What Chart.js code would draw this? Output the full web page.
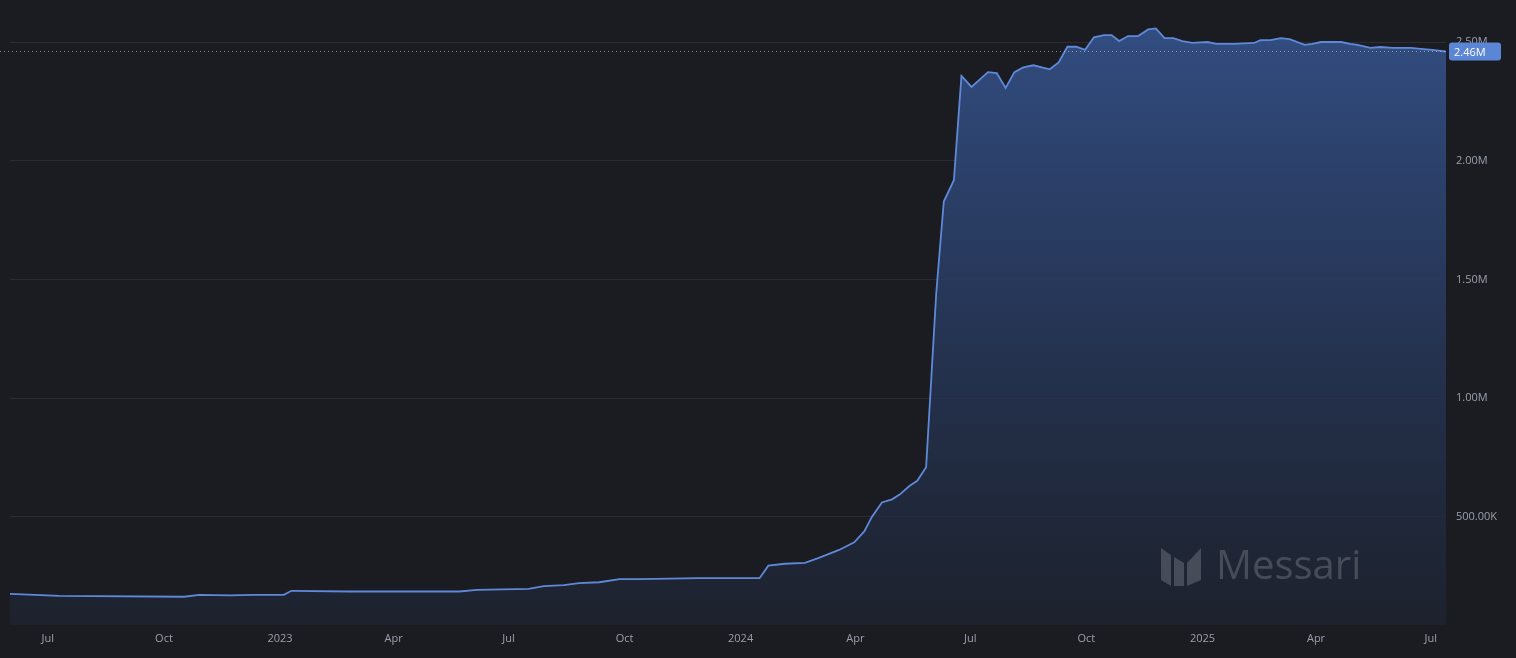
<!DOCTYPE html>
<html>
<head>
<meta charset="utf-8">
<script src="https://cdn.jsdelivr.net/npm/chart.js@4.4.0/dist/chart.umd.min.js"></script>
<style>
  html, body { margin: 0; padding: 0; background: #1a1c22; overflow: hidden; }
  canvas { display: block; }
</style>
</head>
<body>
<canvas id="chart" width="1516" height="658"></canvas>
<script>
// days since 2022-06-01
var days = [0, 39, 138, 150, 174, 193, 217, 223, 269, 356, 370, 411, 423, 439, 451, 467, 483, 499, 546, 594,
    601, 614, 630, 641, 657, 669, 677, 683, 691, 699, 705, 713, 719, 726, 734, 740, 748, 754, 762, 775,
    782, 789, 796, 803, 811, 824, 831, 838, 845, 852, 859, 867, 873, 879, 886, 894, 902, 908, 915, 922,
    929, 937, 949, 956, 970, 986, 991, 999, 1007, 1014, 1026, 1032, 1039, 1055, 1062, 1068, 1078, 1086, 1096, 1110,
    1118, 1127, 1138];
// supply, millions
var values = [0.176, 0.168, 0.164, 0.172, 0.170, 0.172, 0.172, 0.189, 0.186, 0.186, 0.193, 0.197, 0.209, 0.213, 0.221, 0.225, 0.238, 0.238, 0.242, 0.242,
    0.295, 0.303, 0.307, 0.328, 0.361, 0.393, 0.439, 0.500, 0.561, 0.574, 0.594, 0.631, 0.652, 0.709, 1.44, 1.828, 1.918, 2.357, 2.311, 2.373,
    2.369, 2.307, 2.373, 2.393, 2.402, 2.385, 2.414, 2.480, 2.480, 2.467, 2.520, 2.529, 2.529, 2.504, 2.525, 2.525, 2.553, 2.557, 2.516, 2.516,
    2.504, 2.496, 2.500, 2.492, 2.492, 2.496, 2.508, 2.508, 2.516, 2.512, 2.488, 2.492, 2.500, 2.500, 2.492, 2.488, 2.475, 2.479, 2.475, 2.475,
    2.471, 2.467, 2.460];
var tickDays = [30, 122, 214, 304, 395, 487, 579, 670, 761, 853, 945, 1035, 1126];
var tickLabels = ['Jul', 'Oct', '2023', 'Apr', 'Jul', 'Oct', '2024', 'Apr', 'Jul', 'Oct', '2025', 'Apr', 'Jul'];
var yTicks = [0.5, 1.0, 1.5, 2.0, 2.5];
var yTickLabels = ['500.00K', '1.00M', '1.50M', '2.00M', '2.50M'];
var lastLabel = '2.46M';

var points = days.map(function (d, i) { return { x: d, y: values[i] }; });

var overlay = {
    id: 'overlay',
    beforeDraw: function (chart) {
        var c = chart.ctx;
        c.save();
        c.fillStyle = '#1a1c22';
        c.fillRect(0, 0, chart.width, chart.height);
        c.restore();
    },
    afterDatasetsDraw: function (chart) {
        var c = chart.ctx, area = chart.chartArea;
        var y = chart.scales.y.getPixelForValue(values[values.length - 1]);
        c.save();
        // watermark
        c.fillStyle = 'rgba(120,124,134,0.45)';
        c.beginPath();
        c.moveTo(1161, 548); c.lineTo(1171, 555); c.lineTo(1171, 586); c.lineTo(1161, 580); c.closePath(); c.fill();
        c.beginPath();
        c.moveTo(1174, 557); c.lineTo(1184, 563); c.lineTo(1184, 586); c.lineTo(1174, 586); c.closePath(); c.fill();
        c.beginPath();
        c.moveTo(1187, 563); c.lineTo(1201, 548); c.lineTo(1201, 580); c.lineTo(1187, 586); c.closePath(); c.fill();
        c.font = '40px "Open Sans", sans-serif';
        c.textBaseline = 'middle';
        c.fillText('Messari', 1216, 568);
        // last value line
        c.strokeStyle = 'rgba(200,205,215,0.6)';
        c.setLineDash([1, 3]);
        c.lineWidth = 1;
        c.beginPath();
        c.moveTo(0, y); c.lineTo(area.right, y);
        c.stroke();
        c.setLineDash([]);
        c.fillStyle = '#5b86d6';
        var bx = area.right + 3, bw = 52, bh = 18;
        c.beginPath();
        c.roundRect(bx, y - bh / 2, bw, bh, 3);
        c.fill();
        c.fillStyle = '#ffffff';
        c.font = '11px "Open Sans", sans-serif';
        c.textAlign = 'left';
        c.fillText(lastLabel, bx + 5, y + 1);
        c.restore();
    }
};

var ctx = document.getElementById('chart').getContext('2d');
var grad = ctx.createLinearGradient(0, 0, 0, 625);
grad.addColorStop(0, 'rgba(52,82,138,0.95)');
grad.addColorStop(0.5, 'rgba(40,58,95,0.85)');
grad.addColorStop(1, 'rgba(30,36,50,0.7)');

new Chart(ctx, {
    type: 'line',
    data: {
        datasets: [{
            data: points,
            borderColor: '#5f89d8',
            borderWidth: 1.8,
            backgroundColor: grad,
            fill: 'start',
            pointRadius: 0,
            tension: 0
        }]
    },
    plugins: [overlay],
    options: {
        responsive: false,
        animation: false,
        devicePixelRatio: 1,
        layout: { padding: { left: 10, top: 0, right: 0, bottom: 0 } },
        plugins: { legend: { display: false }, tooltip: { enabled: false } },
        scales: {
            x: {
                type: 'linear',
                min: 0,
                max: 1138,
                grid: { display: false, drawTicks: true, tickLength: 4, color: '#3a3e48' },
                border: { display: false },
                afterBuildTicks: function (axis) {
                    axis.ticks = tickDays.map(function (d) { return { value: d }; });
                },
                afterFit: function (axis) { axis.height = 33; },
                ticks: {
                    autoSkip: false,
                    maxRotation: 0,
                    color: '#9aa0aa',
                    font: { size: 11, family: '"Open Sans", sans-serif' },
                    callback: function (v) { return tickLabels[tickDays.indexOf(v)]; }
                }
            },
            y: {
                position: 'right',
                min: 0.045,
                max: 2.607,
                grid: { color: '#2a2d35', drawTicks: false },
                border: { display: false },
                afterBuildTicks: function (axis) {
                    axis.ticks = yTicks.map(function (v) { return { value: v }; });
                },
                afterFit: function (axis) { axis.width = 70; },
                ticks: {
                    color: '#9aa0aa',
                    padding: 10,
                    font: { size: 11, family: '"Open Sans", sans-serif' },
                    callback: function (v) { return yTickLabels[yTicks.indexOf(v)]; }
                }
            }
        }
    }
});
</script>
</body>
</html>
